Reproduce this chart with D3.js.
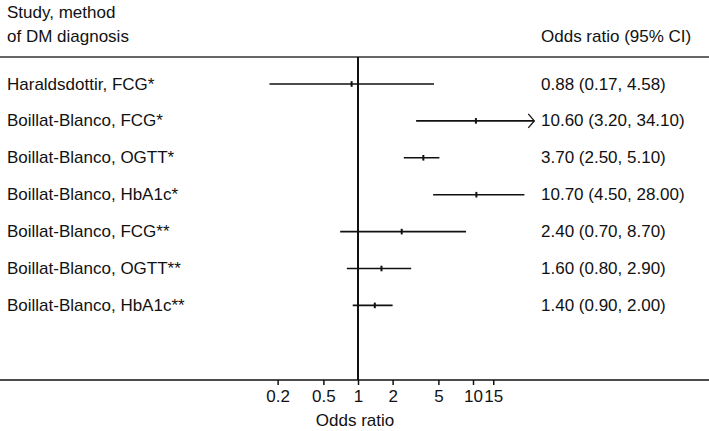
<!DOCTYPE html>
<html>
<head>
<meta charset="utf-8">
<script src="https://cdn.jsdelivr.net/npm/d3@7"></script>
<style>
  html, body { margin: 0; padding: 0; background: #fff; }
  svg { display: block; font-family: "Liberation Sans", Arial, Helvetica, sans-serif; }
</style>
</head>
<body>
<svg id="chart" width="709" height="431"></svg>
<script>
// ---- data ----
const studies = [
  "Haraldsdottir, FCG*",
  "Boillat-Blanco, FCG*",
  "Boillat-Blanco, OGTT*",
  "Boillat-Blanco, HbA1c*",
  "Boillat-Blanco, FCG**",
  "Boillat-Blanco, OGTT**",
  "Boillat-Blanco, HbA1c**"
];
const oddsRatio = [0.88, 10.60, 3.70, 10.70, 2.40, 1.60, 1.40];
const ciLow     = [0.17, 3.20, 2.50, 4.50, 0.70, 0.80, 0.90];
const ciHigh    = [4.58, 34.10, 5.10, 28.00, 8.70, 2.90, 2.00];
const tickValues = [0.2, 0.5, 1, 2, 5, 10, 15];
const tickLabels = ["0.2", "0.5", "1", "2", "5", "10", "15"];
const displayMax = 30; // CIs beyond this get an arrow

const fmt = d3.format(".2f");

// ---- layout ----
const W = 709, H = 431;
const svg = d3.select("#chart");
const fontSize = 17;

const x = d3.scaleLog().domain([0.1, 100]).range([358 - 115, 358 + 230]);
const y = d3.scaleLinear().domain([0, studies.length - 1]).range([84, 305.4]);

const topLineY = 57, axisY = 380;

// header
svg.append("text").attr("x", 7).attr("y", 17.5).attr("font-size", fontSize).attr("fill", "#111").text("Study, method");
svg.append("text").attr("x", 7).attr("y", 42).attr("font-size", fontSize).attr("fill", "#111").text("of DM diagnosis");
svg.append("text").attr("x", 541).attr("y", 42).attr("font-size", fontSize).attr("fill", "#111").text("Odds ratio (95% CI)");

// top rule
svg.append("line").attr("x1", 0).attr("x2", W).attr("y1", topLineY).attr("y2", topLineY)
  .attr("stroke", "#333").attr("stroke-width", 1.6);

// axis
const axis = d3.axisBottom(x).tickValues(tickValues)
  .tickFormat((d, i) => tickLabels[i]).tickSize(5).tickPadding(5).tickSizeOuter(0);
const gAxis = svg.append("g").attr("transform", `translate(0,${axisY})`).call(axis);
gAxis.select(".domain").remove();
gAxis.selectAll(".tick line").attr("stroke", "#111").attr("stroke-width", 1.5);
gAxis.selectAll(".tick text").attr("font-size", fontSize).attr("fill", "#111")
  .attr("font-family", "Liberation Sans, Arial, sans-serif").attr("dy", "0.71em");
svg.append("line").attr("x1", 0).attr("x2", W).attr("y1", axisY).attr("y2", axisY)
  .attr("stroke", "#111").attr("stroke-width", 1.6);
svg.append("text").attr("x", x(1) - 3).attr("y", 426).attr("text-anchor", "middle")
  .attr("font-size", fontSize).attr("fill", "#111").text("Odds ratio");

// null line
svg.append("line").attr("x1", x(1)).attr("x2", x(1)).attr("y1", topLineY).attr("y2", axisY)
  .attr("stroke", "#111").attr("stroke-width", 2);

// rows
studies.forEach((s, i) => {
  const yy = y(i);
  svg.append("text").attr("x", 7).attr("y", yy + 5.5).attr("font-size", fontSize).attr("fill", "#111").text(s);
  svg.append("text").attr("x", 541).attr("y", yy + 5.5).attr("font-size", fontSize).attr("fill", "#111")
    .text(`${fmt(oddsRatio[i])} (${fmt(ciLow[i])}, ${fmt(ciHigh[i])})`);
  const x1 = x(ciLow[i]), x2 = x(ciHigh[i]);
  svg.append("line").attr("x1", x1).attr("x2", x2).attr("y1", yy).attr("y2", yy)
    .attr("stroke", "#111").attr("stroke-width", 1.6);
  if (ciHigh[i] > displayMax) {
    svg.append("path")
      .attr("d", `M${x2 - 6},${yy - 7} L${x2},${yy} L${x2 - 6},${yy + 7}`)
      .attr("fill", "none").attr("stroke", "#111").attr("stroke-width", 1.3);
  }
  svg.append("line").attr("x1", x(oddsRatio[i])).attr("x2", x(oddsRatio[i]))
    .attr("y1", yy - 2.8).attr("y2", yy + 2.8).attr("stroke", "#111").attr("stroke-width", 2);
});
</script>
</body>
</html>
